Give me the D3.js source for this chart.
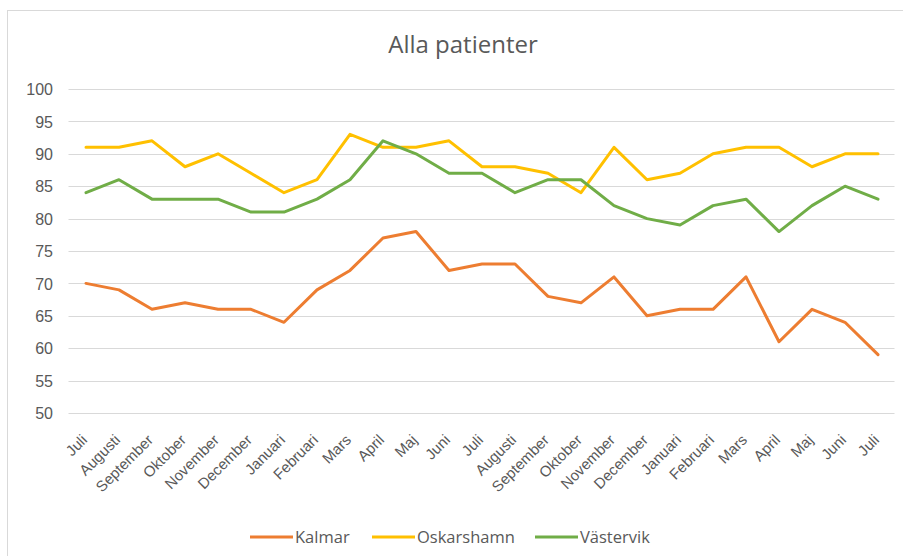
<!DOCTYPE html>
<meta charset="utf-8">
<script src="https://d3js.org/d3.v7.min.js"></script>
<style>
body { margin: 0; background: #fff; font-family: "Open Sans", sans-serif; }
.grid line { stroke: #d9d9d9; stroke-width: 1; }
.axis text { fill: #595959; }
</style>
<svg id="chart" width="903" height="556"></svg>
<script>
// x categories (months, July to July)
const months = ["Juli", "Augusti", "September", "Oktober", "November", "December", "Januari",
  "Februari", "Mars", "April", "Maj", "Juni", "Juli", "Augusti", "September", "Oktober",
  "November", "December", "Januari", "Februari", "Mars", "April", "Maj", "Juni", "Juli"];

const kalmar = [70, 69, 66, 67, 66, 66, 64, 69, 72, 77, 78, 72, 73, 73, 68, 67, 71, 65, 66, 66, 71, 61, 66, 64, 59];
const oskarshamn = [91, 91, 92, 88, 90, 87, 84, 86, 93, 91, 91, 92, 88, 88, 87, 84, 91, 86, 87, 90, 91, 91, 88, 90, 90];
const vastervik = [84, 86, 83, 83, 83, 81, 81, 83, 86, 92, 90, 87, 87, 84, 86, 86, 82, 80, 79, 82, 83, 78, 82, 85, 83];

const seriesNames = ["Kalmar", "Oskarshamn", "Västervik"];
const seriesColors = ["#ED7D31", "#FFC000", "#70AD47"];
const yTicks = [50, 55, 60, 65, 70, 75, 80, 85, 90, 95, 100];

const series = [kalmar, oskarshamn, vastervik].map((v, i) => ({
  name: seriesNames[i], color: seriesColors[i], values: v
}));

const svg = d3.select("#chart");

// chart frame
svg.append("rect")
  .attr("x", 7.5).attr("y", 10.5)
  .attr("width", 900).attr("height", 560)
  .attr("fill", "#fff")
  .attr("stroke", "#d9d9d9");

const margin = { left: 69.5, right: 894.5, top: 89, bottom: 413 };

const x = d3.scaleBand()
  .domain(d3.range(months.length))
  .range([margin.left, margin.right]);

const y = d3.scaleLinear()
  .domain([50, 100])
  .range([margin.bottom, margin.top]);

// title
svg.append("text")
  .attr("x", 463).attr("y", 53)
  .attr("text-anchor", "middle")
  .attr("fill", "#595959")
  .style("font-size", "24px")
  .text("Alla patienter");

// gridlines
svg.append("g")
  .attr("class", "grid")
  .selectAll("line")
  .data(yTicks)
  .enter().append("line")
  .attr("x1", margin.left - 1).attr("x2", margin.right)
  .attr("y1", d => Math.round(y(d)) + 0.5)
  .attr("y2", d => Math.round(y(d)) + 0.5);

// y axis labels
const yAxis = svg.append("g")
  .attr("class", "axis")
  .attr("transform", "translate(57,0)")
  .call(d3.axisLeft(y).tickValues(yTicks).tickSize(0).tickPadding(4));
yAxis.select(".domain").remove();
yAxis.selectAll("text").attr("dy", "0.35em").style("font-size", "16px");

// x axis labels
const xAxis = svg.append("g")
  .attr("class", "axis")
  .attr("transform", "translate(0," + margin.bottom + ")")
  .call(d3.axisBottom(x).tickFormat(i => months[i]).tickSize(0));
xAxis.select(".domain").remove();
xAxis.selectAll("text")
  .style("font-size", "15px")
  .attr("text-anchor", "end")
  .attr("dy", 0)
  .attr("y", 0)
  .attr("transform", "translate(2,28) rotate(-45)");

// lines
const line = d3.line()
  .x((d, i) => x(i) + x.bandwidth() / 2)
  .y(d => y(d));

svg.append("g")
  .selectAll("path")
  .data(series)
  .enter().append("path")
  .attr("d", d => line(d.values))
  .attr("fill", "none")
  .attr("stroke", d => d.color)
  .attr("stroke-width", 3)
  .attr("stroke-linejoin", "round")
  .attr("stroke-linecap", "round");

// legend
const legendX = [250, 372, 535];
const legend = svg.append("g")
  .selectAll("g")
  .data(series)
  .enter().append("g")
  .attr("transform", (d, i) => "translate(" + legendX[i] + ",537)");

legend.append("line")
  .attr("x1", 0).attr("x2", 43)
  .attr("stroke", d => d.color)
  .attr("stroke-width", 3);

legend.append("text")
  .attr("x", 45).attr("dy", "0.35em")
  .attr("fill", "#595959")
  .style("font-size", "16.5px")
  .text(d => d.name);
</script>
